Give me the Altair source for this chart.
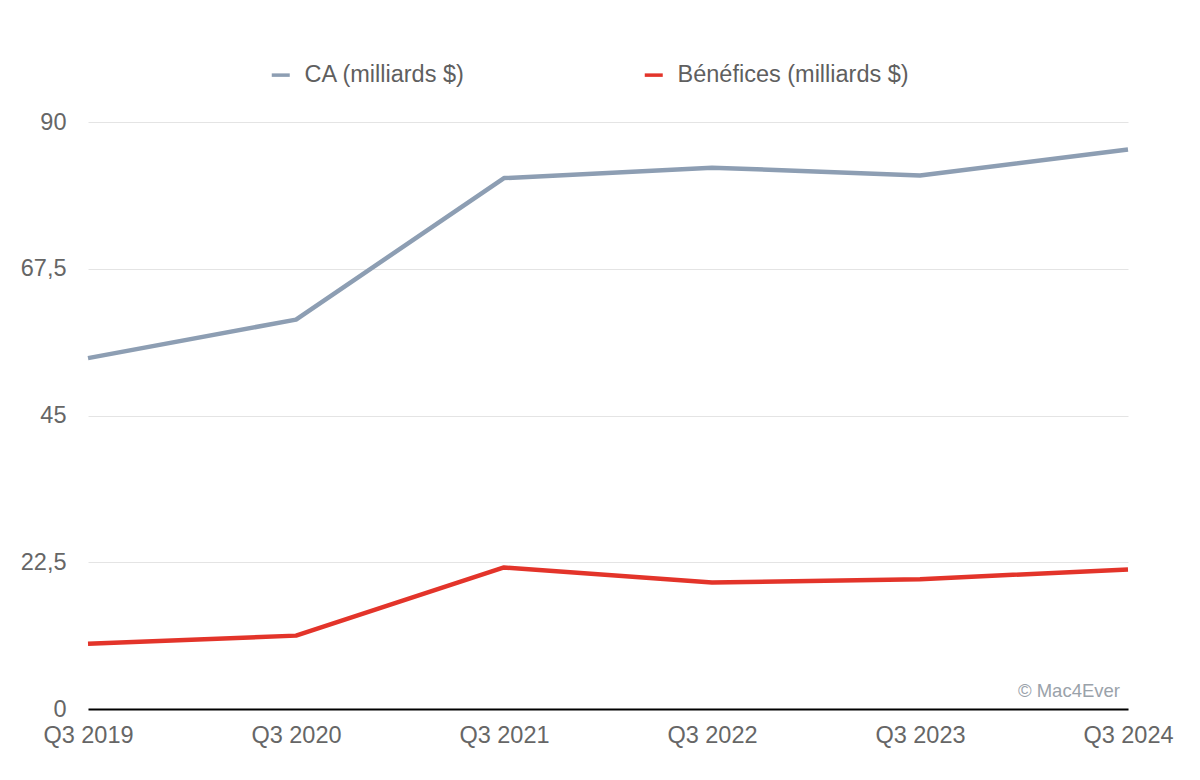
import altair as alt
import pandas as pd

quarters = ["Q3 2019", "Q3 2020", "Q3 2021", "Q3 2022", "Q3 2023", "Q3 2024"]
ca = [53.8, 59.7, 81.4, 83.0, 81.8, 85.8]
benefices = [10.0, 11.25, 21.7, 19.4, 19.9, 21.4]
series_names = ["CA (milliards $)", "Bénéfices (milliards $)"]
series_colors = ["#8d9eb3", "#e3342a"]
y_ticks = [0, 22.5, 45, 67.5, 90]
watermark = ["© Mac4Ever"]

rows = []
for i, (q, v) in enumerate(zip(quarters, ca)):
    rows.append({"idx": i, "quarter": q, "series": series_names[0], "value": v})
for i, (q, v) in enumerate(zip(quarters, benefices)):
    rows.append({"idx": i, "quarter": q, "series": series_names[1], "value": v})
df = pd.DataFrame(rows)

FONT = "Liberation Sans"
FS = 23.5
W, H = 1040, 587

label_array = "[" + ",".join("'" + q + "'" for q in quarters) + "]"

lines = alt.Chart(df).mark_line(strokeWidth=4.5, strokeJoin="round").encode(
    x=alt.X(
        "idx:Q",
        scale=alt.Scale(domain=[0, len(quarters) - 1], nice=False, zero=False),
        axis=alt.Axis(
            title=None, values=list(range(len(quarters))),
            labelExpr=label_array + "[datum.value]",
            labelAngle=0, ticks=False, labelPadding=14,
            labelFontSize=FS, labelFont=FONT, labelColor="#666666",
            labelOverlap=False, labelFlush=False,
            domainColor="#000000", domainWidth=2, grid=False,
        ),
    ),
    y=alt.Y(
        "value:Q",
        scale=alt.Scale(domain=[0, 90], nice=False),
        axis=alt.Axis(
            title=None, values=y_ticks, ticks=False, domain=False,
            labelExpr="replace(toString(datum.value), '.', ',')",
            labelPadding=22, labelFontSize=FS, labelFont=FONT,
            labelColor="#666666", gridColor="#e4e4e4", gridWidth=1,
        ),
    ),
    color=alt.Color(
        "series:N",
        sort=series_names,
        scale=alt.Scale(domain=series_names, range=series_colors),
        legend=alt.Legend(
            title=None, orient="none", direction="horizontal",
            legendX=181, legendY=-59, padding=0,
            symbolType="stroke", symbolStrokeWidth=3.5, symbolSize=324,
            labelFontSize=FS, labelFont=FONT, labelColor="#5f5f5f",
            labelOffset=12, columnPadding=171, labelLimit=400,
        ),
    ),
    detail="series:N",
)

wm = alt.Chart(pd.DataFrame({"t": watermark})).mark_text(
    align="right", baseline="alphabetic", fontSize=18.5, font=FONT, color="#9aa2aa"
).encode(
    text="t:N",
    x=alt.value(1032),
    y=alt.value(575),
)

chart = alt.layer(lines, wm).properties(
    width=W, height=H,
    autosize=alt.AutoSizeParams(type="none"),
    padding={"left": 80, "top": 114, "right": 64, "bottom": 63},
    background="white",
).configure_view(stroke=None)

chart.save("out.html", embed_options={"renderer": "svg", "actions": False})
